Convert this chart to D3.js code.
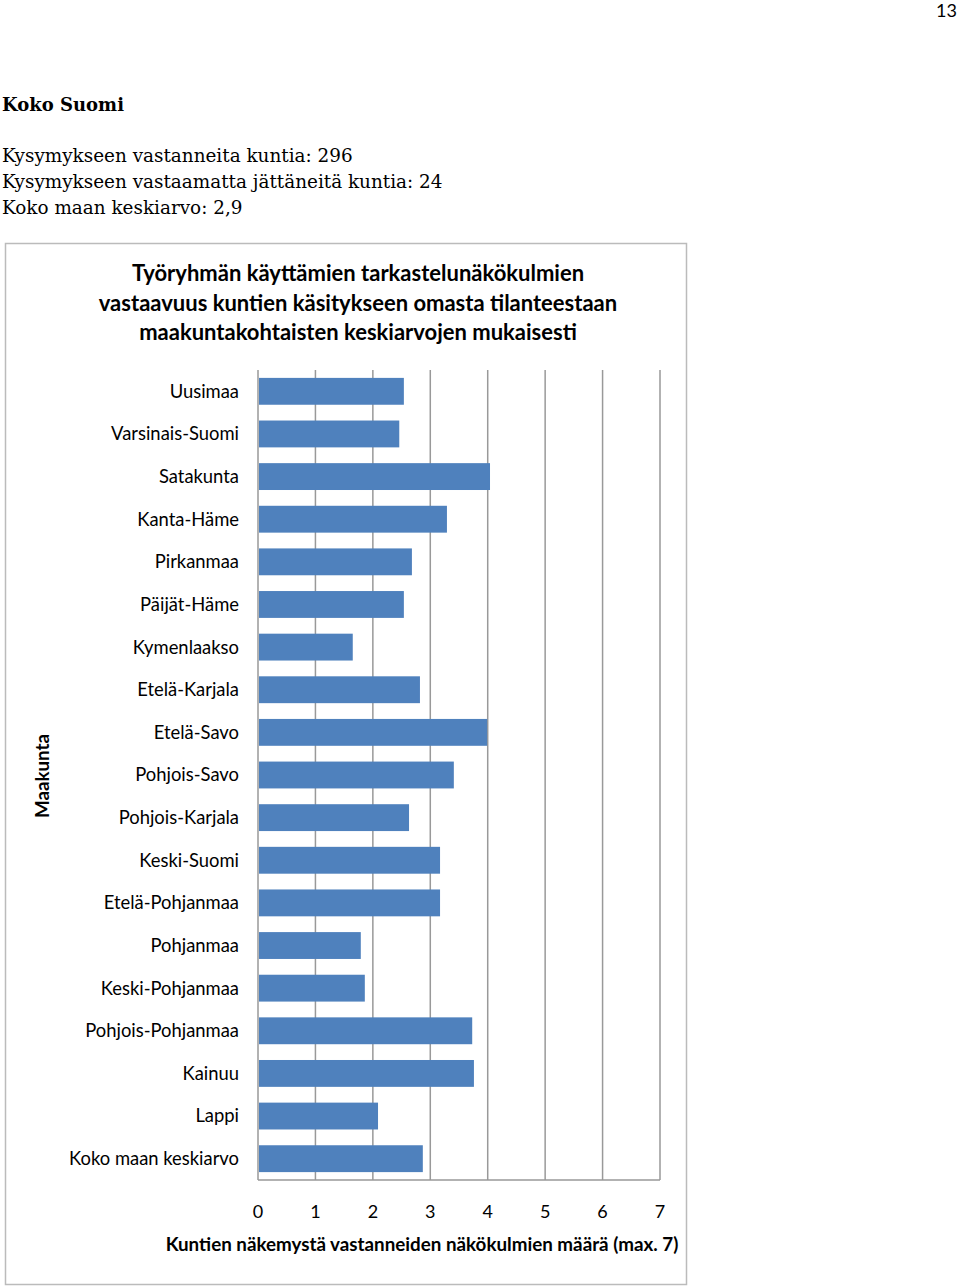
<!DOCTYPE html>
<html>
<head>
<meta charset="utf-8">
<script src="https://cdn.jsdelivr.net/npm/d3@7"></script>
<style>
  body { margin: 0; background: #fff; }
</style>
</head>
<body>
<div id="chart"></div>
<script>
// Data
const regions = ["Uusimaa", "Varsinais-Suomi", "Satakunta", "Kanta-Häme", "Pirkanmaa", "Päijät-Häme",
    "Kymenlaakso", "Etelä-Karjala", "Etelä-Savo", "Pohjois-Savo", "Pohjois-Karjala", "Keski-Suomi",
    "Etelä-Pohjanmaa", "Pohjanmaa", "Keski-Pohjanmaa", "Pohjois-Pohjanmaa", "Kainuu", "Lappi",
    "Koko maan keskiarvo"];
const values = [2.54, 2.46, 4.04, 3.29, 2.68, 2.54, 1.65, 2.82, 3.99, 3.41, 2.63, 3.17,
    3.17, 1.79, 1.86, 3.73, 3.76, 2.09, 2.87];
const xTicks = [0, 1, 2, 3, 4, 5, 6, 7];
const headerLines = ["Kysymykseen vastanneita kuntia: 296",
    "Kysymykseen vastaamatta jättäneitä kuntia: 24",
    "Koko maan keskiarvo: 2,9"];
const titleLines = ["Työryhmän käyttämien tarkastelunäkökulmien",
    "vastaavuus kuntien käsitykseen omasta tilanteestaan",
    "maakuntakohtaisten keskiarvojen mukaisesti"];

const width = 960;
const height = 1288;
const sans = "Lato, 'Open Sans', sans-serif";
const serif = "'DejaVu Serif', 'Liberation Serif', serif";

const svg = d3.select("#chart")
    .append("svg")
    .attr("width", width)
    .attr("height", height);

// page number
svg.append("text")
    .attr("x", 957).attr("y", 17)
    .attr("text-anchor", "end")
    .style("font-family", sans)
    .style("font-size", "18px")
    .text("13");

// headings above the chart
svg.append("text")
    .attr("x", 2).attr("y", 111)
    .style("font-family", serif)
    .style("font-weight", "bold")
    .style("font-size", "18px")
    .text("Koko Suomi");

svg.selectAll(".hdr")
    .data(headerLines)
    .enter()
    .append("text")
    .attr("class", "hdr")
    .attr("x", 2)
    .attr("y", (d, i) => 162 + i * 26)
    .style("font-family", serif)
    .style("font-size", "18.4px")
    .text(d => d);

// chart frame
svg.append("rect")
    .attr("x", 5.5).attr("y", 243.5)
    .attr("width", 681).attr("height", 1041)
    .attr("fill", "none")
    .attr("stroke", "#bbbbbb")
    .attr("stroke-width", 1.5);

// title
svg.selectAll(".title")
    .data(titleLines)
    .enter()
    .append("text")
    .attr("class", "title")
    .attr("x", 358)
    .attr("y", (d, i) => 281 + i * 29.5)
    .attr("text-anchor", "middle")
    .style("font-family", sans)
    .style("font-weight", "bold")
    .style("font-size", "22px")
    .text(d => d);

// scales
const x = d3.scaleLinear().domain([0, 7]).range([258, 660]);
const y = d3.scaleBand().domain(regions).range([370, 1180]).paddingInner(0.37).paddingOuter(0.185);

// gridlines
svg.selectAll(".grid")
    .data(xTicks)
    .enter()
    .append("line")
    .attr("class", "grid")
    .attr("x1", d => x(d)).attr("x2", d => x(d))
    .attr("y1", 370).attr("y2", 1180)
    .attr("stroke", "#999999")
    .attr("stroke-width", 1.5);

// bottom axis line
svg.append("line")
    .attr("x1", x(0)).attr("x2", x(7))
    .attr("y1", 1180).attr("y2", 1180)
    .attr("stroke", "#999999")
    .attr("stroke-width", 1.5);

// bars
svg.selectAll(".bar")
    .data(values)
    .enter()
    .append("rect")
    .attr("class", "bar")
    .attr("x", x(0) + 1)
    .attr("y", (d, i) => y(regions[i]))
    .attr("width", d => x(d) - x(0) - 1)
    .attr("height", y.bandwidth())
    .attr("fill", "#4f81bd");

// category labels
svg.selectAll(".cat")
    .data(regions)
    .enter()
    .append("text")
    .attr("class", "cat")
    .attr("x", 239)
    .attr("y", d => y(d) + y.bandwidth() / 2)
    .attr("dy", "0.35em")
    .attr("text-anchor", "end")
    .style("font-family", sans)
    .style("font-size", "18.4px")
    .text(d => d);

// tick labels
svg.selectAll(".tick-label")
    .data(xTicks)
    .enter()
    .append("text")
    .attr("class", "tick-label")
    .attr("x", d => x(d))
    .attr("y", 1218)
    .attr("text-anchor", "middle")
    .style("font-family", sans)
    .style("font-size", "18px")
    .text(d => d);

// axis titles
svg.append("text")
    .attr("x", 422).attr("y", 1251)
    .attr("text-anchor", "middle")
    .style("font-family", sans)
    .style("font-weight", "bold")
    .style("font-size", "18.8px")
    .text("Kuntien näkemystä vastanneiden näkökulmien määrä (max. 7)");

svg.append("text")
    .attr("transform", "translate(49,776) rotate(-90)")
    .attr("text-anchor", "middle")
    .style("font-family", sans)
    .style("font-weight", "bold")
    .style("font-size", "18.8px")
    .text("Maakunta");
</script>
</body>
</html>
